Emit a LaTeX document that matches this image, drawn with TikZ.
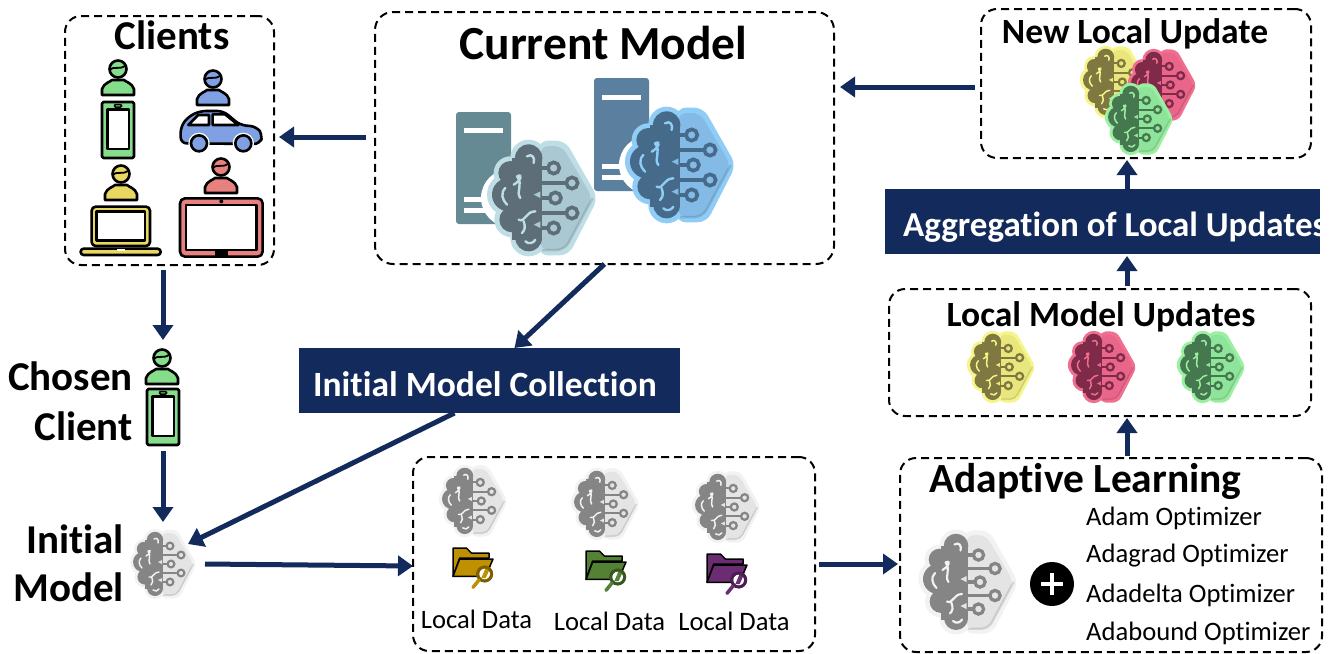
\documentclass[tikz,border=0pt]{standalone}
\usepackage{fontspec}
\setmainfont[Ligatures=NoCommon]{Carlito}
\usetikzlibrary{arrows.meta,calc}
\definecolor{navy}{HTML}{122B5C}
\definecolor{cgreen}{HTML}{85DC8A}
\definecolor{cblue}{HTML}{7FA0E2}
\definecolor{cyellow}{HTML}{E8D860}
\definecolor{cpink}{HTML}{E88080}
\definecolor{srvteal}{HTML}{668A94}
\definecolor{srvblue}{HTML}{5B7F9E}
\definecolor{cteal1}{HTML}{BEDDE5}\definecolor{cteal2}{HTML}{A9C8D2}\definecolor{cteal3}{HTML}{5E6E78}
\definecolor{cblu1}{HTML}{8FCDF7}\definecolor{cblu2}{HTML}{84BAE6}\definecolor{cblu3}{HTML}{456A8A}
\definecolor{cyel1}{HTML}{F5F58A}\definecolor{cyel2}{HTML}{E8E67C}\definecolor{cyel3}{HTML}{7F7840}
\definecolor{cpin1}{HTML}{F06E90}\definecolor{cpin2}{HTML}{E9668A}\definecolor{cpin3}{HTML}{7E2A48}
\definecolor{cgre1}{HTML}{9BEFA0}\definecolor{cgre2}{HTML}{8FE49B}\definecolor{cgre3}{HTML}{46784F}
\definecolor{cgr1}{HTML}{F2F2F2}\definecolor{cgr2}{HTML}{E4E4E4}\definecolor{cgr3}{HTML}{858585}
\definecolor{cfol1}{HTML}{BF9000}\definecolor{cfold1}{HTML}{7F6000}
\definecolor{cfol2}{HTML}{548235}\definecolor{cfold2}{HTML}{385723}
\definecolor{cfol3}{HTML}{6B2C72}\definecolor{cfold3}{HTML}{4B1D52}
\tikzset{
  dbox/.style={draw=black,line width=2pt,dash pattern=on 8pt off 5pt,rounded corners=16pt,inner sep=0pt,outer sep=0pt,fill=none},
  banner/.style={fill=navy,inner sep=0pt,outer sep=0pt},
  flow/.style={draw=navy,line width=5pt,-{Triangle[length=15pt,width=20pt]}},
  bold/.style={font=\bfseries\fontsize{#1}{#1}\selectfont,inner sep=0pt,text=black},
  plain/.style={font=\fontsize{#1}{#1}\selectfont,inner sep=0pt,text=black},
  ico/.style={draw=black,line width=2.6pt,line join=round},
}
% brain icon: x, y, scale, halo, right half, dark
\newcommand\brainicon[6]{%
\begin{scope}[shift={(#1,#2)},scale=#3/3]
 \pgfmathsetmacro\bs{#3}
 \fill[#4] (-40,-120) circle[radius=55];
 \fill[#4] (-95,-75) circle[radius=50];
 \fill[#4] (-100,-10) circle[radius=65];
 \fill[#4] (-90,65) circle[radius=53];
 \fill[#4] (-40,120) circle[radius=55];
 \fill[#4] (-90,-120) rectangle (0,125);
 \fill[#4,rounded corners=\bs*9pt] (-10,-172) -- (70,-172) -- (168,0) -- (80,172) -- (-10,172) -- cycle;
 \fill[#5,rounded corners=\bs*8pt] (-5,-156) -- (60,-156) -- (152,0) -- (68,156) -- (-5,156) -- cycle;
 \draw[black,opacity=.12,line width=\bs*2.5pt,rounded corners=\bs*8pt] (152,0) -- (68,156) -- (0,156);
 \fill[#6] (-40,-120) circle[radius=41];
 \fill[#6] (-95,-75) circle[radius=36];
 \fill[#6] (-100,-10) circle[radius=50];
 \fill[#6] (-90,65) circle[radius=38];
 \fill[#6] (-40,120) circle[radius=40];
 \fill[#6] (-90,-120) rectangle (0,125);
 \foreach \cx/\cy in {35/-90,90/-45,40/0,90/45,35/90}{
   \draw[#6,line width=\bs*3.4pt] (0,\cy) -- (\cx,\cy);
   \draw[#6,line width=\bs*3.6pt,fill=#5] (\cx,\cy) circle[radius=17];
 }
 \fill[#5] (-5,-20) -- (-25,-10) -- (-5,0) -- cycle;
 \fill[#5] (-5,70) -- (-25,80) -- (-5,90) -- cycle;
 \draw[#4,line width=\bs*2.4pt,line cap=round]
   (-45,-125) .. controls (-30,-135) and (-20,-120) .. (-25,-105)
   (-75,-65) .. controls (-55,-75) and (-65,-50) .. (-85,-40)
   (-75,-65) .. controls (-55,-40) and (-80,-20) .. (-65,0)
   (-110,-30) .. controls (-125,-15) and (-120,5) .. (-105,20)
   (-70,65) .. controls (-50,75) and (-50,40) .. (-20,40)
   (-60,105) .. controls (-50,95) and (-50,85) .. (-55,70)
   (-50,130) .. controls (-40,140) and (-25,135) .. (-20,125);
\end{scope}}
% person: centre x, head centre y, colour
\newcommand\personicon[3]{%
\begin{scope}[shift={(#1,#2)}]
 \draw[ico,fill=#3] (0,0) circle[radius=8.5];
 \draw[black,line width=1.8pt] (-8,1) .. controls (-3,-4) and (1,2) .. (8,-4);
 \draw[ico,fill=#3] (-16,26) -- (-16,20) .. controls (-14,14) and (-8,13) .. (-6,11) -- (6,11) .. controls (8,13) and (14,14) .. (16,20) -- (16,26) -- cycle;
\end{scope}}
\newcommand\phoneicon[3]{%
\begin{scope}[shift={(#1,#2)}]
 \draw[ico,fill=#3,rounded corners=1.5pt] (0,0) rectangle (32,56);
 \draw[ico,fill=white] (5.5,7.5) rectangle (27,47);
 \draw[black,line width=1.5pt,fill=#3,rounded corners=1pt] (12.5,2.5) rectangle (19.5,5);
\end{scope}}
% folder: top-left x, y, fill, dark
\newcommand\foldericon[4]{%
\begin{scope}[shift={(#1,#2)},scale=1/3]
 \draw[black,line width=1.5pt,fill=#3,line join=round] (0,85) -- (0,0) -- (40,0) -- (55,15) -- (108,15) -- (108,30) -- (20,30) -- cycle;
 \draw[black,line width=1.5pt,fill=#3,line join=round] (0,85) -- (20,33) -- (120,33) -- (98,85) -- cycle;
 \fill[white] (78,64) -- (108,62) -- (112,90) -- (80,95) -- cycle;
 \draw[#4,line width=2.8pt,fill=white] (95,78) circle[radius=21];
 \fill[#3] (85,90) -- (98,60) -- (110,64) -- (98,90) -- cycle;
 \draw[#4,line width=2.8pt] (95,78) circle[radius=21];
 \draw[#3,line width=3.5pt,line cap=round] (78,96) -- (60,118);
\end{scope}}
\begin{document}
\begin{tikzpicture}[x=1pt,y=-1pt]
\useasboundingbox (0,0) rectangle (1335,653);
\fill[white] (0,0) rectangle (1335,653);

% boxes
\node[dbox,minimum width=209pt,minimum height=249pt] (clients) at (169.5,140.5) {};
\node[dbox,minimum width=459pt,minimum height=252pt,rounded corners=18pt] (current) at (604.5,138) {};
\node[dbox,minimum width=330pt,minimum height=149pt] (newlocal) at (1146,83.5) {};
\node[dbox,minimum width=422pt,minimum height=127pt] (updates) at (1100,352.5) {};
\node[dbox,minimum width=422pt,minimum height=194pt] (adaptive) at (1111,555) {};
\node[dbox,minimum width=402pt,minimum height=194pt] (localdata) at (614,554) {};

% banners
\node[banner,minimum width=381pt,minimum height=65pt] (collect) at (489.5,380.5) {};
\node[banner,minimum width=435pt,minimum height=65pt] (aggreg) at (1102.5,221.5) {};
\node[bold=35.5,text=white,anchor=west] (collecttext) at (313,384) {Initial Model Collection};
\begin{scope}
 \clip (885,189) rectangle (1320,254);
 \node[bold=35,text=white,anchor=west] (aggregtext) at (903,227) {Aggregation of Local Updates};
\end{scope}

% titles
\node[bold=41] (tclients) at (172,35) {Clients};
\node[bold=47.5] (tcurrent) at (603.5,43) {Current Model};
\node[bold=35.5] (tnew) at (1135,34) {New Local Update};
\node[bold=35.5] (tupdates) at (1101,317) {Local Model Updates};
\node[bold=41.5] (tadaptive) at (1085.5,481) {Adaptive Learning};
\node[bold=41,anchor=east] (tchosen) at (133,376) {Chosen};
\node[bold=41,anchor=east] (tclient) at (133,426) {Client};
\node[bold=41,anchor=east] (tinitial) at (124,539) {Initial};
\node[bold=41,anchor=east] (tmodel) at (124,587) {Model};
\node[plain=26.6,anchor=west] (o1) at (1086,518) {Adam Optimizer};
\node[plain=26.6,anchor=west] (o2) at (1086,556) {Adagrad Optimizer};
\node[plain=26.6,anchor=west] (o3) at (1086,595) {Adadelta Optimizer};
\node[plain=26.6,anchor=west] (o4) at (1086,633) {Adabound Optimizer};
\node[plain=26.6] (ld1) at (476.5,619) {Local Data};
\node[plain=26.6] (ld2) at (609.5,621) {Local Data};
\node[plain=26.6] (ld3) at (734,621) {Local Data};

% client icons
\personicon{118}{69}{cgreen}
\phoneicon{102}{102}{cgreen}
\personicon{213}{79}{cblue}
\personicon{121}{174}{cyellow}
\personicon{221}{167}{cpink}
\begin{scope}[shift={(60,10)},scale=1/3]
 % car
 \draw[ico,fill=cblue,rounded corners=6pt] (362,400) -- (362,350) -- (385,320) -- (420,303) -- (490,303) -- (540,345) -- (590,350) -- (608,375) -- (600,402) -- cycle;
 \draw[ico,fill=white] (385,345) -- (415,315) -- (447,315) -- (447,345) -- cycle;
 \draw[ico,fill=white] (458,345) -- (458,313) -- (495,313) -- (535,345) -- cycle;
 \fill[white] (417,400) circle[radius=32];
 \fill[white] (550,400) circle[radius=32];
 \draw[ico,fill=cblue] (417,400) circle[radius=24];
 \draw[ico,fill=cblue] (550,400) circle[radius=24];
 % laptop
 \draw[ico,fill=cyellow,rounded corners=4pt] (95,708) -- (95,590) -- (270,590) -- (270,708) -- cycle;
 \draw[ico,fill=white] (110,605) rectangle (255,692);
 \draw[ico,fill=cyellow,rounded corners=3pt] (62,716) rectangle (302,735);
 \fill[white] (170,717) rectangle (195,724);
 % tablet
 \draw[ico,fill=cpink,rounded corners=5pt] (360,565) rectangle (608,740);
 \draw[ico,fill=white] (378,585) rectangle (590,720);
 \fill[black] (484,574) circle[radius=6];
 \fill[black] (465,721) rectangle (503,740);
\end{scope}
\personicon{162}{358}{cgreen}
\phoneicon{147}{389}{cgreen}
\coordinate (chosen) at (163,396);
\coordinate (initial) at (163,564);

% servers
\fill[rounded corners=3pt,srvteal] (456,224) -- (456,112) -- (511,112) -- (511,224) -- cycle;
\fill[white] (464,128) rectangle (503,133);
\fill[white] (464,197) rectangle (503,202);
\fill[white] (464,208) rectangle (503,213);
\fill[white] (510,198) circle[radius=29];
\brainicon{542}{198}{1}{cteal1}{cteal2}{cteal3}
\fill[rounded corners=3pt,srvblue] (594,191) -- (594,78) -- (649,78) -- (649,191) -- cycle;
\fill[white] (602,95) rectangle (641,100);
\fill[white] (602,164) rectangle (641,169);
\fill[white] (602,175) rectangle (641,180);
\fill[white] (648,165) circle[radius=29];
\brainicon{680}{165}{1}{cblu1}{cblu2}{cblu3}

% new local update
\brainicon{1114}{82}{.62}{cyel1}{cyel2}{cyel3}
\brainicon{1162}{85}{.62}{cpin1}{cpin2}{cpin3}
\brainicon{1139}{119}{.62}{cgre1}{cgre2}{cgre3}
% local updates
\brainicon{1001}{367}{.62}{cyel1}{cyel2}{cyel3}
\brainicon{1102}{367}{.62}{cpin1}{cpin2}{cpin3}
\brainicon{1211}{367}{.62}{cgre1}{cgre2}{cgre3}
% grey brains
\brainicon{163}{564}{.6}{cgr1}{cgr2}{cgr3}
\brainicon{473}{501}{.62}{cgr1}{cgr2}{cgr3}
\brainicon{605}{504}{.62}{cgr1}{cgr2}{cgr3}
\brainicon{726}{507}{.62}{cgr1}{cgr2}{cgr3}
\brainicon{968}{582}{.9}{cgr1}{cgr2}{cgr3}
% folders
\foldericon{453}{548}{cfol1}{cfold1}
\foldericon{586}{551}{cfol2}{cfold2}
\foldericon{707}{554}{cfol3}{cfold3}
% plus
\fill[black] (1052,584) circle[radius=22];
\draw[white,line width=4.5pt] (1041,584) -- (1063,584) (1052,573) -- (1052,595);

% connectors (yshift points up on the page)
\draw[flow] ([xshift=-9pt,yshift=1pt]current.west) -- ([xshift=5pt,yshift=3.5pt]clients.east);
\draw[flow] ([xshift=-6pt,yshift=-3.5pt]newlocal.west) -- ([xshift=6pt,yshift=51pt]current.east);
\draw[flow] ([xshift=-6.5pt,yshift=-5pt]clients.south) -- ([yshift=56pt]chosen);
\draw[flow] ([yshift=-55pt]chosen) -- ([yshift=42pt]initial);
\draw[flow] (current.south) -- ([xshift=25pt]collect.north);
\draw[flow] ([xshift=-35pt]collect.south) -- ([xshift=25pt,yshift=20pt]initial);
\draw[flow] ([xshift=42pt]initial) -- ([yshift=-12pt]localdata.west);
\draw[flow] ([xshift=4pt,yshift=-10pt]localdata.east) -- ([xshift=-2pt,yshift=-9pt]adaptive.west);
\draw[flow] ([xshift=16pt,yshift=2pt]adaptive.north) -- ([xshift=27pt,yshift=-2pt]updates.south);
\draw[flow] ([xshift=27pt,yshift=3pt]updates.north) -- ([xshift=24.5pt,yshift=-2pt]aggreg.south);
\draw[flow] ([xshift=24.5pt]aggreg.north) -- ([xshift=-19pt,yshift=-2pt]newlocal.south);
\end{tikzpicture}
\end{document}
